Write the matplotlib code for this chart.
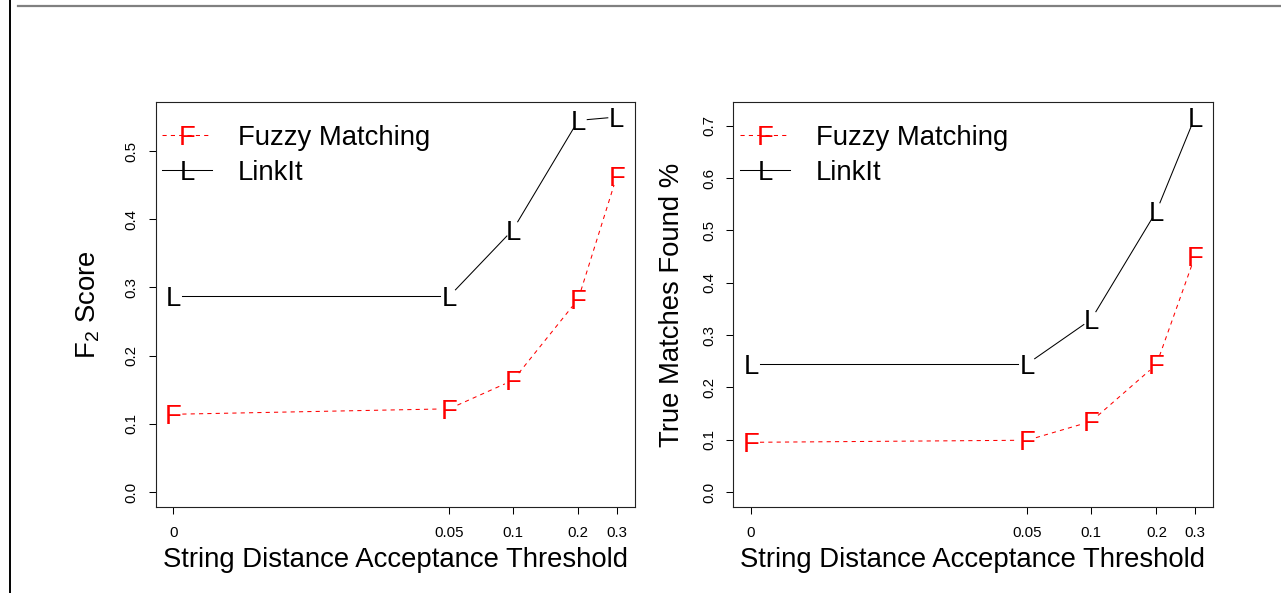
import numpy as np
import matplotlib
matplotlib.use("Agg")
import matplotlib.pyplot as plt
from matplotlib.lines import Line2D
from matplotlib import transforms

plt.rcParams['font.family'] = ['Liberation Sans', 'DejaVu Sans']
plt.rcParams['mathtext.fontset'] = 'custom'
plt.rcParams['mathtext.rm'] = 'Liberation Sans'
plt.rcParams['mathtext.it'] = 'Liberation Sans:italic'

# thresholds and readings
thresholds = [0, 0.05, 0.1, 0.2, 0.3]
tick_labels = ["0", "0.05", "0.1", "0.2", "0.3"]

f2_fuzzy = [0.114, 0.122, 0.164, 0.283, 0.463]
f2_linkit = [0.287, 0.287, 0.385, 0.545, 0.550]

found_fuzzy = [0.095, 0.099, 0.135, 0.244, 0.451]
found_linkit = [0.245, 0.245, 0.330, 0.537, 0.717]

FS = 19.8
OFF = 0.003


def fwd(x):
    return np.log(np.asarray(x) + OFF)


def inv(t):
    return np.exp(np.asarray(t)) - OFF


def gapped(ax, xs, ys, gap, **kw):
    # R type="b": segments stop short of the letter markers
    pts = ax.transData.transform(np.column_stack([xs, ys]))
    back = ax.transData.inverted()
    for p, q in zip(pts[:-1], pts[1:]):
        d = q - p
        n = np.hypot(*d)
        if n <= 2 * gap:
            continue
        u = d / n
        seg = back.transform(np.array([p + u * gap, q - u * gap]))
        ax.plot(seg[:, 0], seg[:, 1], **kw)


def letters(ax, fig, xs, ys, ch, color):
    tr = transforms.offset_copy(ax.transData, fig=fig, y=-0.729 * FS / 2, units='points')
    for x, y in zip(xs, ys):
        ax.text(x, y, ch, color=color, fontsize=FS, ha='center', va='baseline',
                transform=tr)


def panel(fig, rect, fuzzy, linkit, ylabel, ylab_off):
    ax = fig.add_axes(rect)
    ax.set_xscale('function', functions=(fwd, inv))
    t = fwd(thresholds)
    span = t[-1] - t[0]
    ax.set_xlim(inv(t[0] - 0.04 * span), inv(t[-1] + 0.04 * span))
    ymax = max(linkit)
    ax.set_ylim(-0.04 * ymax, 1.04 * ymax)

    gapped(ax, thresholds, fuzzy, 9, color='red', lw=0.75, dashes=(4, 4))
    gapped(ax, thresholds, linkit, 9, color='black', lw=0.75)
    letters(ax, fig, thresholds, fuzzy, "F", 'red')
    letters(ax, fig, thresholds, linkit, "L", 'black')

    # legend, no box
    rows = [(0.918, "F", 'red', (4, 4), "Fuzzy Matching"),
            (0.833, "L", 'black', None, "LinkIt")]
    for yy, ch, col, ds, lab in rows:
        ln = Line2D([0.0134, 0.118], [yy, yy], transform=ax.transAxes, color=col, lw=0.75)
        if ds:
            ln.set_dashes(ds)
        ax.add_line(ln)
        tr = transforms.offset_copy(ax.transAxes, fig=fig, y=-0.729 * FS / 2, units='points')
        ax.text(0.0665, yy, ch, color=col, fontsize=FS, ha='center', va='baseline', transform=tr)
        ax.text(0.172, yy, lab, color='black', fontsize=FS, ha='left', va='baseline', transform=tr)

    ax.set_xticks(thresholds)
    ax.set_xticklabels(tick_labels)
    ax.minorticks_off()
    yt = np.arange(0, ymax + 1e-9, 0.1)
    ax.set_yticks(yt)
    ax.set_yticklabels(["%.1f" % v for v in yt])
    ax.tick_params(direction='out', length=5, width=0.75, labelsize=10.8, colors='black')
    ax.tick_params(axis='x', pad=13.5)
    ax.tick_params(axis='y', pad=12.2)
    for lb in ax.get_yticklabels():
        lb.set_rotation(90)
        lb.set_ha('center')
        lb.set_va('center')
    for lb in ax.get_xticklabels():
        lb.set_va('center')
    for s in ax.spines.values():
        s.set_linewidth(0.8)
        s.set_color('#222222')

    ax.set_xlabel("String Distance Acceptance Threshold", fontsize=FS)
    ax.xaxis.label.set_va('center')
    ax.xaxis.set_label_coords(0.5, -53 / 405)
    ax.set_ylabel(ylabel, fontsize=FS)
    ax.yaxis.label.set_va('center')
    ax.yaxis.set_label_coords(-ylab_off / 478.9, 0.5)
    return ax


fig = plt.figure(figsize=(12.81, 5.93), dpi=100)
H = 405 / 593
B = (593 - 507) / 593
panel(fig, [155.6 / 1281, B, 478.9 / 1281, H], f2_fuzzy, f2_linkit, r"F$_2$ Score", 67.6)
panel(fig, [733.2 / 1281, B, 479.6 / 1281, H], found_fuzzy, found_linkit, "True Matches Found %", 61.5)

# page edges visible in the reference crop
fig.add_artist(Line2D([9.5 / 1281, 9.5 / 1281], [0, 1], color='black', lw=1.4))
fig.add_artist(Line2D([18 / 1281, 1], [1 - 6 / 593, 1 - 6 / 593], color='#808080', lw=1.6))

fig.savefig("out.png", dpi=100)
